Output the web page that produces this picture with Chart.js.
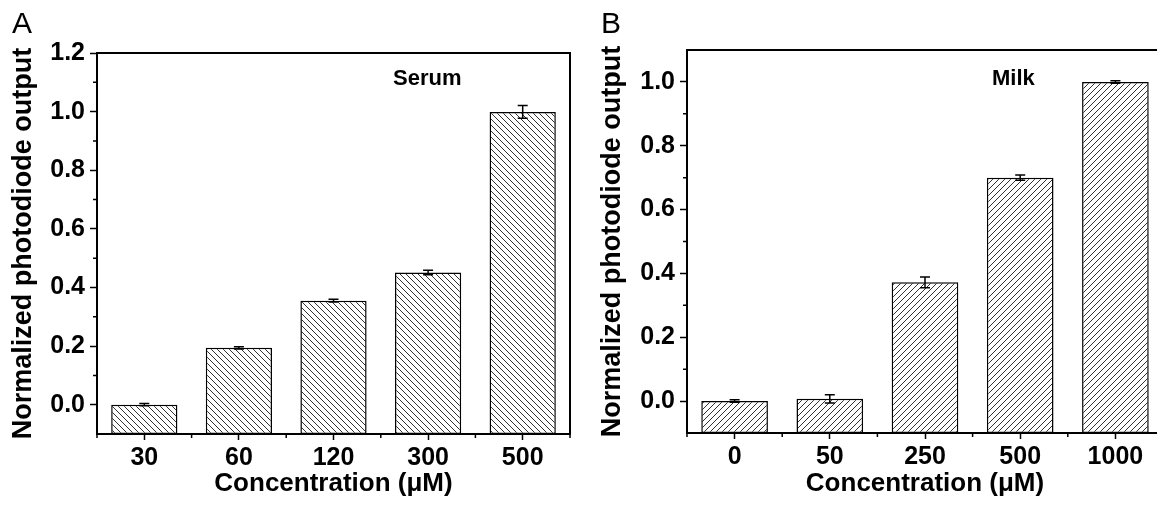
<!DOCTYPE html>
<html>
<head>
<meta charset="utf-8">
<script src="https://cdn.jsdelivr.net/npm/chart.js@4/dist/chart.umd.min.js"></script>
<style>
  html, body { margin: 0; padding: 0; background: #fff; overflow: hidden; }
  body { width: 1157px; height: 505px; position: relative; font-family: "Liberation Sans", Arial, sans-serif; }
  .wrap { position: absolute; top: 0; height: 505px; overflow: hidden; }
  canvas { position: absolute; top: 0; left: 0; }
  .lbl { position: absolute; line-height: 1; color: #000; white-space: nowrap; }
</style>
</head>
<body>
<div class="wrap" style="left:0px; width:578px;"><canvas id="chartA"></canvas></div>
<div class="wrap" style="left:578px; width:579px;"><canvas id="chartB"></canvas></div>
<div class="lbl" style="left:12px; top:8px; font-size:30px;">A</div>
<div class="lbl" style="left:601px; top:8px; font-size:30px;">B</div>
<div class="lbl" style="left:393px; top:67px; font-size:22px; font-weight:bold;">Serum</div>
<div class="lbl" style="left:992px; top:67px; font-size:22px; font-weight:bold;">Milk</div>
<script>
// panel A - serum
const serumLabels = ["30", "60", "120", "300", "500"];
const serumValues = [0.0, 0.194, 0.355, 0.451, 0.999];
const serumErrors = [0.004, 0.004, 0.005, 0.008, 0.022];
const serumTicks = [0.0, 0.2, 0.4, 0.6, 0.8, 1.0, 1.2];
const serumMinor = [0.1, 0.3, 0.5, 0.7, 0.9, 1.1];

// panel B - milk
const milkLabels = ["0", "50", "250", "500", "1000"];
const milkValues = [0.0, 0.007, 0.372, 0.700, 1.0];
const milkErrors = [0.004, 0.013, 0.017, 0.008, 0.004];
const milkTicks = [0.0, 0.2, 0.4, 0.6, 0.8, 1.0];
const milkMinor = [0.1, 0.3, 0.5, 0.7, 0.9];

const yMin = -0.1;
const FONT = "'Liberation Sans', Arial, sans-serif";

function hatch(dir) {
  const s = 6;
  const c = document.createElement('canvas');
  c.width = s; c.height = s;
  const g = c.getContext('2d');
  g.fillStyle = '#fff';
  g.fillRect(0, 0, s, s);
  g.strokeStyle = '#333';
  g.lineWidth = 1;
  g.beginPath();
  for (let k = -1; k <= 1; k++) {
    if (dir === 'back') {
      g.moveTo(k * s, 0); g.lineTo(k * s + s, s);
    } else {
      g.moveTo(k * s, s); g.lineTo(k * s + s, 0);
    }
  }
  g.stroke();
  return g.createPattern(c, 'repeat');
}

// error bars, minor ticks and the frame
const extras = {
  id: 'extras',
  afterDatasetsDraw(chart, args, opts) {
    const ctx = chart.ctx;
    const x = chart.scales.x, y = chart.scales.y;
    const meta = chart.getDatasetMeta(0);
    const area = chart.chartArea;
    ctx.save();
    ctx.strokeStyle = '#000';
    ctx.lineWidth = 1.5;
    opts.errors.forEach((e, i) => {
      const v = chart.data.datasets[0].data[i];
      const px = meta.data[i].x;
      const top = y.getPixelForValue(v + e);
      const bot = y.getPixelForValue(v - e);
      ctx.beginPath();
      ctx.moveTo(px, top); ctx.lineTo(px, bot);
      ctx.moveTo(px - 5, top); ctx.lineTo(px + 5, top);
      ctx.moveTo(px - 5, bot); ctx.lineTo(px + 5, bot);
      ctx.stroke();
    });
    // minor ticks
    ctx.beginPath();
    opts.minor.forEach(v => {
      const py = y.getPixelForValue(v);
      ctx.moveTo(area.left - 4, py); ctx.lineTo(area.left, py);
    });
    for (let i = 0; i <= chart.data.labels.length; i++) {
      const px = x.getPixelForValue(i - 0.5);
      ctx.moveTo(px, area.bottom); ctx.lineTo(px, area.bottom + 4);
    }
    ctx.stroke();
    // frame top and right
    ctx.lineWidth = 2;
    ctx.beginPath();
    ctx.moveTo(area.left, area.top);
    ctx.lineTo(area.right, area.top);
    ctx.lineTo(area.right, area.bottom);
    ctx.stroke();
    ctx.restore();
  }
};

function makeChart(id, w, labels, values, errors, ticks, minor, yMax, dir, yWidth, xHeight, padTop, padRight, titlePadY) {
  const canvas = document.getElementById(id);
  canvas.width = w; canvas.height = 505;
  canvas.style.width = w + 'px'; canvas.style.height = '505px';
  return new Chart(canvas.getContext('2d'), {
    type: 'bar',
    data: {
      labels: labels,
      datasets: [{
        data: values,
        base: yMin,
        backgroundColor: hatch(dir),
        borderColor: '#000',
        borderWidth: 1.5,
        borderSkipped: false,
        categoryPercentage: 1.0,
        barPercentage: 0.7
      }]
    },
    plugins: [extras],
    options: {
      responsive: false,
      animation: false,
      devicePixelRatio: 1,
      layout: { padding: { top: padTop, right: padRight, left: 0, bottom: 0 } },
      plugins: {
        legend: { display: false },
        tooltip: { enabled: false },
        extras: { errors: errors, minor: minor }
      },
      scales: {
        x: {
          offset: true,
          grid: { display: true, drawOnChartArea: false, color: '#000', tickLength: 6, tickWidth: 1.5, offset: false },
          border: { display: true, color: '#000', width: 2 },
          ticks: { color: '#000', padding: 3, font: { family: FONT, size: 25, weight: 'bold' } },
          title: { display: true, text: 'Concentration (\u03bcM)', color: '#000', padding: { top: 0, bottom: 6 }, font: { family: FONT, size: 26, weight: 'bold' } },
          afterFit: s => { s.height = xHeight; }
        },
        y: {
          min: yMin,
          max: yMax,
          afterBuildTicks: s => { s.ticks = ticks.map(v => ({ value: v })); },
          grid: { display: true, drawOnChartArea: false, color: '#000', tickLength: 7, tickWidth: 1.5 },
          border: { display: true, color: '#000', width: 2 },
          ticks: { color: '#000', padding: 5, font: { family: FONT, size: 25, weight: 'bold' }, callback: v => v.toFixed(1) },
          title: { display: true, text: 'Normalized photodiode output', color: '#000', padding: { top: titlePadY }, font: { family: FONT, size: 27, weight: 'bold' } },
          afterFit: s => { s.width = yWidth; }
        }
      }
    }
  });
}

makeChart('chartA', 578, serumLabels, serumValues, serumErrors, serumTicks, serumMinor, 1.2, 'back', 97, 71, 53, 8, 7);
makeChart('chartB', 593, milkLabels, milkValues, milkErrors, milkTicks, milkMinor, 1.1, 'fwd', 109, 72, 50, 8, 18);
</script>
</body>
</html>
